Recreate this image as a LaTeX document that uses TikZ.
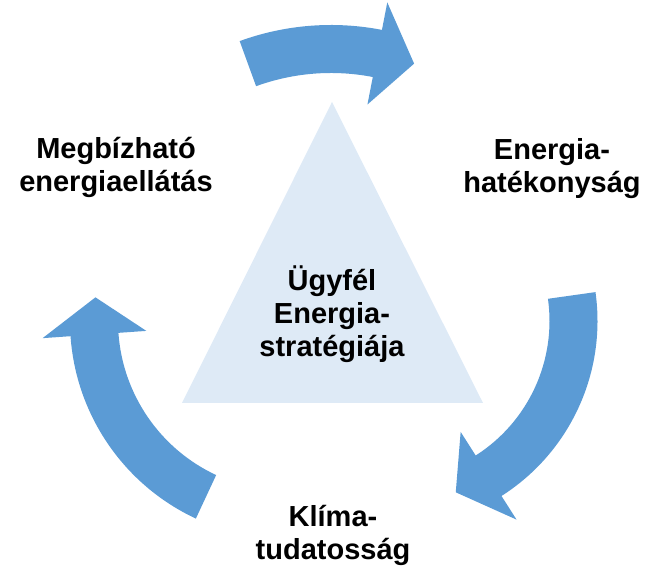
\documentclass[tikz,border=0pt]{standalone}
\usepackage{fontspec}
\setmainfont{Liberation Sans}
\usetikzlibrary{positioning,calc}
\definecolor{arrowblue}{RGB}{91,155,213}
\definecolor{paleblue}{RGB}{222,234,246}
\tikzset{
    x=1pt,
    y=1pt,
    cyclearrow/.style = {
        fill=arrowblue,
        draw=none
    },
    core/.style = {
        fill=paleblue,
        draw=none
    },
    label/.style = {
        font=\fontsize{29}{33}\selectfont\bfseries,
        inner sep=0pt,
        align=center
    },
}
\begin{document}
\begin{tikzpicture}
            \useasboundingbox (0,0) rectangle (646,569);

            \coordinate (apex) at (332,467);
            \coordinate (baseL) at (182,166);
            \coordinate (baseR) at (483,166);
            \fill[core] (apex) -- (baseL) -- (baseR) -- cycle;

            \foreach \cx/\cy/\r/\s/\b/\t in {331/277/243/110/79/70, 390/248/183.5/8/-57.5/-69, 288/248/194/245/184/173}{
                \pgfmathsetmacro\ro{\r+24}
                \pgfmathsetmacro\ri{\r-24}
                \pgfmathsetmacro\ho{\r+52}
                \pgfmathsetmacro\hi{\r-52}
                \fill[cyclearrow] ([shift={(\s:\ro)}]\cx,\cy) arc[start angle=\s, end angle=\b, radius=\ro]
                    -- ([shift={(\b:\ho)}]\cx,\cy) -- ([shift={(\t:\r)}]\cx,\cy) -- ([shift={(\b:\hi)}]\cx,\cy)
                    -- ([shift={(\b:\ri)}]\cx,\cy) arc[start angle=\b, end angle=\s, radius=\ri] -- cycle;
            }

            \node[label, anchor=base] (strategy) at (332,212) {Ügyfél\\Energia-\\stratégiája};
            \node[label, anchor=base] (reliable) at (116,377) {Megbízható\\energiaellátás};
            \node[label, anchor=base] (efficiency) at (552,376) {Energia-\\hatékonyság};
            \node[label, anchor=base] (climate) at (333,9) {Klíma-\\tudatosság};

        \end{tikzpicture}
\end{document}
